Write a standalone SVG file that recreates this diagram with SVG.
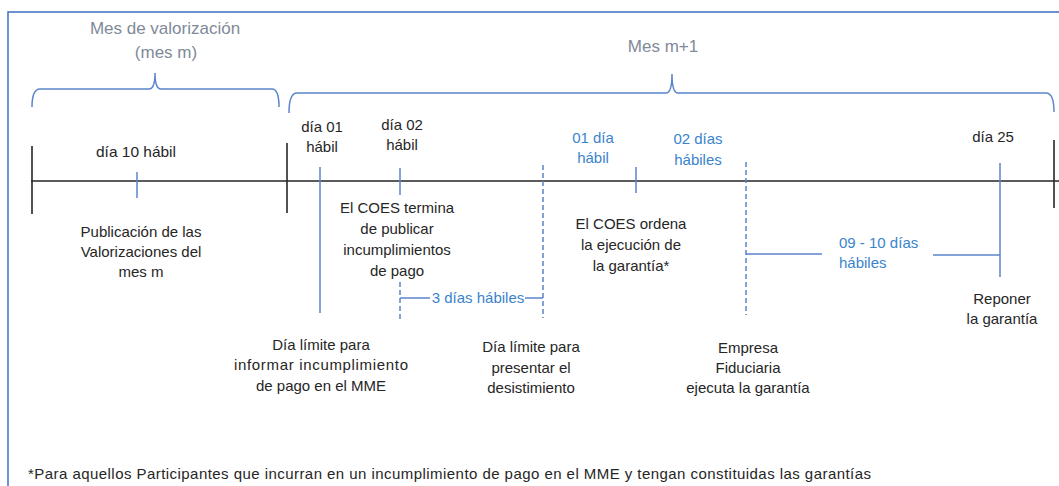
<svg xmlns="http://www.w3.org/2000/svg" width="1059" height="486" viewBox="0 0 1059 486">
<style>
text{font-family:"Liberation Sans",Arial,sans-serif;font-size:15px;fill:#262626;text-anchor:middle}
.t{font-size:17px;fill:#7f8a99}
.b{fill:#3a84cc}
.fn{text-anchor:start;font-size:15px}
.blk{stroke:#262626;stroke-width:1.6;fill:none}
.bl{stroke:#5b85cc;stroke-width:1.5;fill:none}
.dash{stroke:#5b85cc;stroke-width:1.5;fill:none;stroke-dasharray:5 3}
.br{stroke:#5b85cc;stroke-width:1.5;fill:none}
</style>
<rect width="1059" height="486" fill="#fff"/>
<rect x="8" y="12" width="1060" height="490" fill="none" stroke="#4a78c8" stroke-width="1.6"/>
<g id="mes-m">
<text class="t" x="165" y="34">Mes de valorización</text>
<text class="t" x="166" y="58">(mes m)</text>
<path class="br" d="M32,107 Q32,89 40,89 L149,89 Q155,89 155,73 Q155,89 161,89 L272,89 Q279,89 279,107"/>
</g>
<g id="mes-m1">
<text class="t" x="663" y="52">Mes m+1</text>
<path class="br" d="M289,113 Q289,93 297,93 L666,93 Q672,93 672,74 Q672,93 678,93 L1046,93 Q1054,93 1054,112"/>
</g>
<g id="connectors">
<line class="blk" x1="31" y1="181" x2="1059" y2="181"/>
<line class="blk" x1="32" y1="146" x2="32" y2="214"/>
<line class="blk" x1="287" y1="143" x2="287" y2="213"/>
<line class="blk" x1="1054" y1="140" x2="1054" y2="208"/>
<line class="bl" x1="137" y1="172" x2="137" y2="198"/>
<line class="bl" x1="320" y1="167" x2="320" y2="313"/>
<line class="bl" x1="400" y1="168" x2="400" y2="195"/>
<line class="dash" x1="543" y1="165" x2="543" y2="318"/>
<line class="bl" x1="636" y1="167" x2="636" y2="193"/>
<line class="dash" x1="746" y1="162" x2="746" y2="315"/>
<line class="bl" x1="1000" y1="163" x2="1000" y2="277"/>
<line class="dash" x1="400" y1="282" x2="400" y2="322"/>
<line class="bl" x1="400" y1="298" x2="430" y2="298"/>
<line class="bl" x1="525" y1="298" x2="543" y2="298"/>
<line class="bl" x1="746" y1="254" x2="822" y2="254"/>
<line class="bl" x1="933" y1="255" x2="1000" y2="255"/>
</g>
<g id="dia10">
<text x="136" y="157" textLength="80" lengthAdjust="spacingAndGlyphs">día 10 hábil</text>
<text x="141" y="237">Publicación de las</text>
<text x="141" y="257">Valorizaciones del</text>
<text x="141" y="277">mes  m</text>
</g>
<g id="dia01">
<text x="322" y="132">día 01</text>
<text x="322" y="152">hábil</text>
<text x="321" y="350">Día límite para</text>
<text x="321" y="370" textLength="174">informar incumplimiento</text>
<text x="321" y="391">de pago en el MME</text>
</g>
<g id="dia02">
<text x="402" y="130">día 02</text>
<text x="402" y="150">hábil</text>
<text x="397" y="213">El COES termina</text>
<text x="397" y="234">de publicar</text>
<text x="397" y="255">incumplimientos</text>
<text x="397" y="276">de pago</text>
</g>
<g id="tres-dias">
<text class="b" x="478" y="303">3 días hábiles</text>
</g>
<g id="desistimiento">
<text x="531" y="352">Día límite para</text>
<text x="531" y="373">presentar el</text>
<text x="531" y="393">desistimiento</text>
</g>
<g id="un-dia">
<text class="b" x="593" y="143">01 día</text>
<text class="b" x="593" y="163">hábil</text>
<text x="631" y="229">El COES ordena</text>
<text x="631" y="250">la ejecución de</text>
<text x="631" y="271">la garantía*</text>
</g>
<g id="dos-dias">
<text class="b" x="698" y="144">02 días</text>
<text class="b" x="698" y="165">hábiles</text>
<text x="748" y="353">Empresa</text>
<text x="748" y="373">Fiduciaria</text>
<text x="748" y="393">ejecuta la garantía</text>
</g>
<g id="nueve-diez">
<text class="b" x="839" y="248" style="text-anchor:start">09 - 10 días</text>
<text class="b" x="839" y="268" style="text-anchor:start">hábiles</text>
</g>
<g id="dia25">
<text x="993" y="142">día 25</text>
<text x="1002" y="304">Reponer</text>
<text x="1002" y="324">la garantía</text>
</g>
<g id="nota">
<text class="fn" x="28" y="479" textLength="843" lengthAdjust="spacing">*Para aquellos Participantes que incurran en un incumplimiento de pago en el MME y tengan constituidas las garantías</text>
</g>
</svg>
